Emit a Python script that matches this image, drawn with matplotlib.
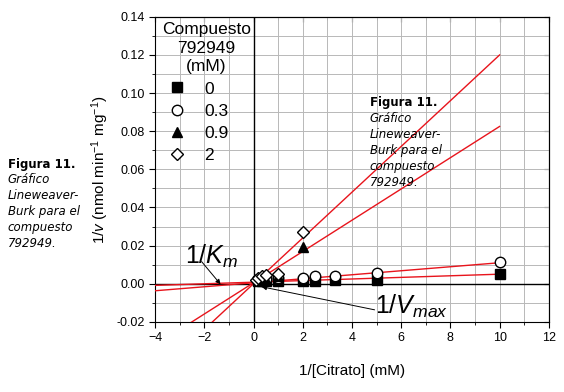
import numpy as np
import matplotlib
matplotlib.use("Agg")
import matplotlib.pyplot as plt
from matplotlib.ticker import MultipleLocator, FormatStrFormatter

# 1/[Citrato] (mM^-1) and 1/v per inhibitor concentration
x_0 = [0.2, 0.33, 0.5, 1, 2, 2.5, 3.33, 5, 10]
y_0 = [0.0012, 0.0012, 0.0015, 0.0012, 0.0012, 0.0012, 0.0018, 0.0022, 0.0050]
x_03 = [0.2, 0.33, 0.5, 1, 2, 2.5, 3.33, 5, 10]
y_03 = [0.0020, 0.0022, 0.0025, 0.0028, 0.0030, 0.0038, 0.0043, 0.0055, 0.0115]
x_09 = [0.2, 0.33, 0.5, 1, 2]
y_09 = [0.0025, 0.0030, 0.0022, 0.0040, 0.0190]
x_2 = [0.1, 0.2, 0.33, 0.5, 1, 2]
y_2 = [0.0020, 0.0030, 0.0040, 0.0045, 0.0050, 0.0270]

# fitted lines (slope, intercept)
fit_slopes = [0.00042, 0.00105, 0.0082, 0.0120]
fit_intercepts = [0.0008, 0.0005, 0.0005, 0.0]

series_labels = ["0", "0.3", "0.9", "2"]

caption = "Gráfico\nLineweaver-\nBurk para el\ncompuesto\n792949."

plt.rcParams["font.family"] = ["Liberation Sans", "DejaVu Sans"]
plt.rcParams["mathtext.fontset"] = "custom"
plt.rcParams["mathtext.rm"] = "Liberation Sans"
plt.rcParams["mathtext.it"] = "Liberation Sans:italic"

fig = plt.figure(figsize=(5.64, 3.92), dpi=100)
ax = fig.add_axes([0.275, 0.179, 0.698, 0.778])

ax.set_xlim(-4, 12)
ax.set_ylim(-0.02, 0.14)
ax.xaxis.set_major_locator(MultipleLocator(2))
ax.xaxis.set_minor_locator(MultipleLocator(1))
ax.yaxis.set_major_locator(MultipleLocator(0.02))
ax.yaxis.set_minor_locator(MultipleLocator(0.01))
ax.yaxis.set_major_formatter(FormatStrFormatter("%.2f"))
ax.grid(True, which="both", color="#b8b8b8", linewidth=0.7)
ax.set_axisbelow(True)
ax.tick_params(which="both", direction="out", labelsize=9, top=False, right=False)
ax.tick_params(which="major", length=4)
ax.tick_params(which="minor", length=2.5)
ax2 = ax.secondary_xaxis("top")
ax2.xaxis.set_major_locator(MultipleLocator(2))
ax2.xaxis.set_minor_locator(MultipleLocator(1))
ax2.tick_params(which="both", direction="in", labeltop=False)
ax3 = ax.secondary_yaxis("right")
ax3.yaxis.set_major_locator(MultipleLocator(0.02))
ax3.yaxis.set_minor_locator(MultipleLocator(0.01))
ax3.tick_params(which="both", direction="in", labelright=False)

ax.axhline(0, color="black", linewidth=1.0, zorder=2)
ax.axvline(0, color="black", linewidth=1.0, zorder=2)

xx = np.array([-4, 10])
for m, b in zip(fit_slopes, fit_intercepts):
    ax.plot(xx, m * xx + b, color="#e8141c", linewidth=1.0, zorder=3)

ms = 7
ax.plot(x_0, y_0, "s", color="black", ms=ms, label=series_labels[0], zorder=4)
ax.plot(x_03, y_03, "o", mfc="white", mec="black", ms=ms + 0.5, label=series_labels[1], zorder=4)
ax.plot(x_09, y_09, "^", color="black", ms=ms + 0.5, label=series_labels[2], zorder=4)
ax.plot(x_2, y_2, "D", mfc="white", mec="black", ms=ms - 1, label=series_labels[3], zorder=4)

leg = ax.legend(title="Compuesto\n792949\n(mM)", loc="upper left", frameon=False,
                fontsize=12.5, title_fontsize=12.5, handletextpad=0.75, handlelength=1.7,
                borderaxespad=0.0, labelspacing=0.4, bbox_to_anchor=(0.0, 1.005),
                alignment="left")
leg.get_title().set_multialignment("center")
leg.get_title().set_linespacing(1.3)

ax.set_xlabel("1/[Citrato] (mM)", fontsize=11, labelpad=14)
ax.set_ylabel("1/$v$ (nmol min$^{-1}$ mg$^{-1}$)", fontsize=11, labelpad=4)

arrow = dict(arrowstyle="-|>", color="black", lw=0.7, mutation_scale=7, shrinkA=0, shrinkB=0)
ax.text(-2.8, 0.0105, "1/$K_m$", fontsize=18)
ax.annotate("", xy=(-1.34, -0.0003), xytext=(-2.11, 0.0116), arrowprops=arrow)
ax.text(4.95, -0.0158, "1/$V_{max}$", fontsize=18)
ax.annotate("", xy=(0.33, -0.0016), xytext=(4.92, -0.0137), arrowprops=arrow)

# captions
cap_font = dict(family="DejaVu Sans", fontsize=8.5, va="top")
fig.text(0.014, 0.598, "Figura 11.", fontweight="bold", **cap_font)
fig.text(0.014, 0.598 - 0.0395, caption, style="italic", linespacing=1.3, **cap_font)
ax.text(4.72, 0.0985, "Figura 11.", fontweight="bold", **cap_font)
ax.text(4.72, 0.0985 - 0.0082, caption, style="italic", linespacing=1.3, **cap_font)

fig.savefig("out.png", dpi=100)
